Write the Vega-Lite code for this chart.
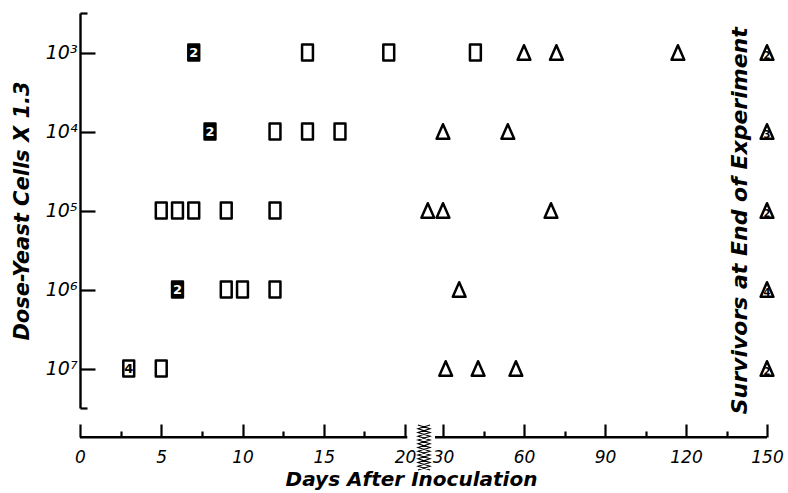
{
  "$schema": "https://vega.github.io/schema/vega-lite/v6.json",
  "width": 687,
  "height": 395,
  "autosize": {"type": "none"},
  "padding": {"left": 80, "top": 13, "right": 21, "bottom": 85},
  "background": "white",
  "config": {"view": {"stroke": null}},
  "datasets": {
    "markers": [
      {"day": 7, "level": 3, "outcome": "died", "n": "2", "filled": "yes"},
      {"day": 14, "level": 3, "outcome": "died", "filled": "no"},
      {"day": 19, "level": 3, "outcome": "died", "filled": "no"},
      {"day": 42, "level": 3, "outcome": "died", "filled": "no"},
      {"day": 60, "level": 3, "outcome": "survived", "filled": "no"},
      {"day": 72, "level": 3, "outcome": "survived", "filled": "no"},
      {"day": 117, "level": 3, "outcome": "survived", "filled": "no"},
      {"day": 150, "level": 3, "outcome": "survived", "n": "2", "filled": "no"},
      {"day": 8, "level": 4, "outcome": "died", "n": "2", "filled": "yes"},
      {"day": 12, "level": 4, "outcome": "died", "filled": "no"},
      {"day": 14, "level": 4, "outcome": "died", "filled": "no"},
      {"day": 16, "level": 4, "outcome": "died", "filled": "no"},
      {"day": 30, "level": 4, "outcome": "survived", "filled": "no"},
      {"day": 54, "level": 4, "outcome": "survived", "filled": "no"},
      {"day": 150, "level": 4, "outcome": "survived", "n": "3", "filled": "no"},
      {"day": 5, "level": 5, "outcome": "died", "filled": "no"},
      {"day": 6, "level": 5, "outcome": "died", "filled": "no"},
      {"day": 7, "level": 5, "outcome": "died", "filled": "no"},
      {"day": 9, "level": 5, "outcome": "died", "filled": "no"},
      {"day": 12, "level": 5, "outcome": "died", "filled": "no"},
      {"day": 26, "level": 5, "outcome": "survived", "filled": "no"},
      {"day": 30, "level": 5, "outcome": "survived", "filled": "no"},
      {"day": 70, "level": 5, "outcome": "survived", "filled": "no"},
      {"day": 150, "level": 5, "outcome": "survived", "n": "2", "filled": "no"},
      {"day": 6, "level": 6, "outcome": "died", "n": "2", "filled": "yes"},
      {"day": 9, "level": 6, "outcome": "died", "filled": "no"},
      {"day": 10, "level": 6, "outcome": "died", "filled": "no"},
      {"day": 12, "level": 6, "outcome": "died", "filled": "no"},
      {"day": 36, "level": 6, "outcome": "survived", "filled": "no"},
      {"day": 150, "level": 6, "outcome": "survived", "n": "4", "filled": "no"},
      {"day": 3, "level": 7, "outcome": "died", "n": "4", "filled": "no"},
      {"day": 5, "level": 7, "outcome": "died", "filled": "no"},
      {"day": 31, "level": 7, "outcome": "survived", "filled": "no"},
      {"day": 43, "level": 7, "outcome": "survived", "filled": "no"},
      {"day": 57, "level": 7, "outcome": "survived", "filled": "no"},
      {"day": 150, "level": 7, "outcome": "survived", "n": "2", "filled": "no"}
    ],
    "axisline": [
      {"day": 0, "day2": 20.6, "level": 7.87},
      {"day": 27.9, "day2": 150, "level": 7.87}
    ],
    "spring": [{"day": 25, "level": 8.0}],
    "note": [{"day": 140, "level": 5.13, "text": "Survivors at End of Experiment"}]
  },
  "encoding": {
    "x": {
      "field": "day",
      "type": "quantitative",
      "scale": {"domain": [0, 20, 30, 150], "range": [0, 325, 363, 687], "nice": false, "zero": false},
      "axis": {
        "values": [0, 2.5, 5, 7.5, 10, 12.5, 15, 17.5, 20, 30, 45, 60, 75, 90, 105, 120, 135, 150],
        "labelExpr": "indexof([0,5,10,15,20,30,60,90,120,150], datum.value) >= 0 ? format(datum.value, 'd') : ''",
        "tickSize": {"condition": {"test": "indexof([0,5,10,15,20,30,60,90,120,150], datum.value) < 0", "value": -6}, "value": -13},
        "tickWidth": 2.2,
        "tickColor": "black",
        "domain": false,
        "offset": 29,
        "grid": false,
        "labelPadding": 25,
        "labelFont": "DejaVu Sans",
        "labelFontSize": 17,
        "labelFontStyle": "italic",
        "labelColor": "black",
        "labelFlush": false,
        "labelOverlap": false,
        "title": "Days After Inoculation",
        "titleFont": "DejaVu Sans",
        "titleFontSize": 20,
        "titleFontStyle": "italic",
        "titleFontWeight": "bold",
        "titleColor": "black",
        "titlePadding": -3,
        "titleX": 331
      }
    },
    "y": {
      "field": "level",
      "type": "quantitative",
      "scale": {"domain": [2.5, 7.5], "reverse": true, "nice": false, "zero": false},
      "axis": {
        "values": [2.5, 3, 4, 5, 6, 7, 7.5],
        "labelExpr": "datum.value == 3 ? '10³' : datum.value == 4 ? '10⁴' : datum.value == 5 ? '10⁵' : datum.value == 6 ? '10⁶' : datum.value == 7 ? '10⁷' : ''",
        "tickSize": {"condition": {"test": "datum.value == 2.5 || datum.value == 7.5", "value": -7}, "value": -15},
        "tickWidth": 2.2,
        "tickColor": "black",
        "domainColor": "black",
        "domainWidth": 2.4,
        "grid": false,
        "labelPadding": 18,
        "labelFont": "DejaVu Sans",
        "labelFontSize": 19,
        "labelFontStyle": "italic",
        "labelColor": "black",
        "labelFlush": false,
        "labelOverlap": false,
        "title": "Dose-Yeast Cells X 1.3",
        "titleFont": "DejaVu Sans",
        "titleFontSize": 21,
        "titleFontStyle": "italic",
        "titleFontWeight": "bold",
        "titleColor": "black",
        "titlePadding": 13
      }
    }
  },
  "layer": [
    {
      "data": {"name": "axisline"},
      "mark": {"type": "rule", "stroke": "black", "strokeWidth": 2.4},
      "encoding": {"x2": {"field": "day2"}}
    },
    {
      "data": {"name": "spring"},
      "mark": {
        "type": "point",
        "filled": false,
        "stroke": "black",
        "strokeWidth": 1.1,
        "size": 2025,
        "opacity": 1,
        "shape": "M-0.27,-1 L0.27,-0.833 L-0.27,-0.667 L0.27,-0.5 L-0.27,-0.333 L0.27,-0.167 L-0.27,0 L0.27,0.167 L-0.27,0.333 L0.27,0.5 L-0.27,0.667 L0.27,0.833 L-0.27,1 M0.27,-1 L-0.27,-0.833 L0.27,-0.667 L-0.27,-0.5 L0.27,-0.333 L-0.27,-0.167 L0.27,0 L-0.27,0.167 L0.27,0.333 L-0.27,0.5 L0.27,0.667 L-0.27,0.833 L0.27,1"
      }
    },
    {
      "data": {"name": "markers"},
      "mark": {"type": "point", "stroke": "black", "strokeWidth": 2.5, "strokeJoin": "round", "opacity": 1, "fillOpacity": 1},
      "encoding": {
        "shape": {
          "field": "outcome",
          "type": "nominal",
          "scale": {"domain": ["died", "survived"], "range": ["M-0.68,-1 L0.68,-1 L0.68,1 L-0.68,1 Z", "M0,-1 L0.88,1 L-0.88,1 Z"]},
          "legend": null
        },
        "size": {
          "field": "outcome",
          "type": "nominal",
          "scale": {"domain": ["died", "survived"], "range": [256, 210]},
          "legend": null
        },
        "fill": {
          "field": "filled",
          "type": "nominal",
          "scale": {"domain": ["yes", "no"], "range": ["black", "white"]},
          "legend": null
        }
      }
    },
    {
      "data": {"name": "markers"},
      "transform": [{"filter": "datum.n != null && datum.outcome == 'died'"}],
      "mark": {"type": "text", "font": "DejaVu Sans", "fontWeight": "bold", "fontSize": 13, "baseline": "middle", "align": "center"},
      "encoding": {
        "text": {"field": "n"},
        "color": {
          "field": "filled",
          "type": "nominal",
          "scale": {"domain": ["yes", "no"], "range": ["white", "black"]},
          "legend": null
        }
      }
    },
    {
      "data": {"name": "markers"},
      "transform": [{"filter": "datum.n != null && datum.outcome == 'survived'"}],
      "mark": {"type": "text", "font": "DejaVu Sans", "fontWeight": "bold", "fontSize": 10, "baseline": "middle", "align": "center", "dy": 3, "color": "black"},
      "encoding": {"text": {"field": "n"}}
    },
    {
      "data": {"name": "note"},
      "mark": {"type": "text", "angle": 270, "font": "DejaVu Sans", "fontWeight": "bold", "fontStyle": "italic", "fontSize": 22, "baseline": "middle", "align": "center", "color": "black"},
      "encoding": {"text": {"field": "text"}}
    }
  ]
}
